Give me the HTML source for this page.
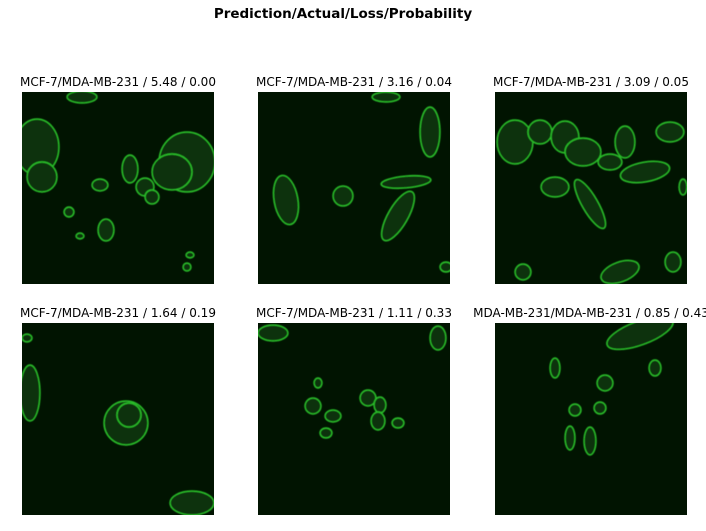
<!DOCTYPE html>
<html><head><meta charset="utf-8"><style>
body{margin:0;background:#fff;width:706px;height:526px;overflow:hidden}
svg text{font-family:"DejaVu Sans","Liberation Sans",sans-serif}
</style></head><body>
<svg width="706" height="526">
<defs><filter id="b"><feGaussianBlur stdDeviation="0.6"/></filter></defs>
<text x="343" y="18" text-anchor="middle" font-size="13.5" font-weight="bold">Prediction/Actual/Loss/Probability</text>
<g id="panels"></g>
</svg>
<script>
const titles=["MCF-7/MDA-MB-231 / 5.48 / 0.00","MCF-7/MDA-MB-231 / 3.16 / 0.04","MCF-7/MDA-MB-231 / 3.09 / 0.05","MCF-7/MDA-MB-231 / 1.64 / 0.19","MCF-7/MDA-MB-231 / 1.11 / 0.33","MDA-MB-231/MDA-MB-231 / 0.85 / 0.43"];
const px=[22,258,495], py=[92,323];
const cells=[
 [[15,55,22,28,0],[20,85,15,15,0],[165,70,28,30,0],[150,80,20,18,0],[108,77,8,14,0],[123,95,9,9,0],[78,93,8,6,0],[47,120,5,5,0],[84,138,8,11,0],[58,144,4,3,0],[165,175,4,4,0],[168,163,4,3,0],[130,105,7,7,0],[60,5,15,6,0]],
 [[28,108,12,25,-10],[85,104,10,10,0],[148,90,25,6,-5],[140,124,10,28,30],[172,40,10,25,0],[128,5,14,5,0],[188,175,6,5,0]],
 [[20,50,18,22,0],[45,40,12,12,0],[70,45,14,16,0],[88,60,18,14,0],[130,50,10,16,0],[115,70,12,8,0],[150,80,25,10,-10],[95,112,8,28,-30],[60,95,14,10,0],[175,40,14,10,0],[28,180,8,8,0],[125,180,20,10,-20],[188,95,4,8,0],[178,170,8,10,0]],
 [[8,70,10,28,0],[104,100,22,22,0],[107,92,12,12,0],[170,180,22,12,0],[5,15,5,4,0]],
 [[15,10,15,8,0],[60,60,4,5,0],[55,83,8,8,0],[75,93,8,6,0],[68,110,6,5,0],[110,75,8,8,0],[122,82,6,8,0],[120,98,7,9,0],[180,15,8,12,0],[140,100,6,5,0]],
 [[145,10,35,12,-20],[110,60,8,8,0],[105,85,6,6,0],[80,87,6,6,0],[75,115,5,12,0],[95,118,6,14,0],[60,45,5,10,0],[160,45,6,8,0]]
];
const g=document.getElementById('panels');
const NS='http://www.w3.org/2000/svg';
titles.forEach((t,i)=>{
 const x=px[i%3], y=py[Math.floor(i/3)];
 const tx=document.createElementNS(NS,'text');
 
 
 tx.setAttribute('x',x+96);tx.setAttribute('y',y-6);tx.setAttribute('text-anchor','middle');tx.setAttribute('font-size','12');
 tx.textContent=t;g.appendChild(tx);
 const pg=document.createElementNS(NS,'g');
 
 
 const r=document.createElementNS(NS,'rect');
 r.setAttribute('x',x);r.setAttribute('y',y);r.setAttribute('width',192);r.setAttribute('height',192);r.setAttribute('fill','#011401');
 pg.appendChild(r);
 const cp=document.createElementNS(NS,'clipPath');cp.setAttribute('id','c'+i);
 const cr=r.cloneNode();cp.appendChild(cr);pg.appendChild(cp);
 const cg=document.createElementNS(NS,'g');cg.setAttribute('clip-path','url(#c'+i+')');cg.setAttribute('filter','url(#b)');
 cells[i].forEach(c=>{
  const e=document.createElementNS(NS,'ellipse');
  
  
  e.setAttribute('cx',x+c[0]);e.setAttribute('cy',y+c[1]);e.setAttribute('rx',c[2]);e.setAttribute('ry',c[3]);
  e.setAttribute('transform','rotate('+c[4]+' '+(x+c[0])+' '+(y+c[1])+')');
  e.setAttribute('fill','#0a330a');e.setAttribute('stroke','#2cc02c');e.setAttribute('stroke-width','1.4');
  cg.appendChild(e);
 });
 pg.appendChild(cg);g.appendChild(pg);
});
</script>
</body></html>
